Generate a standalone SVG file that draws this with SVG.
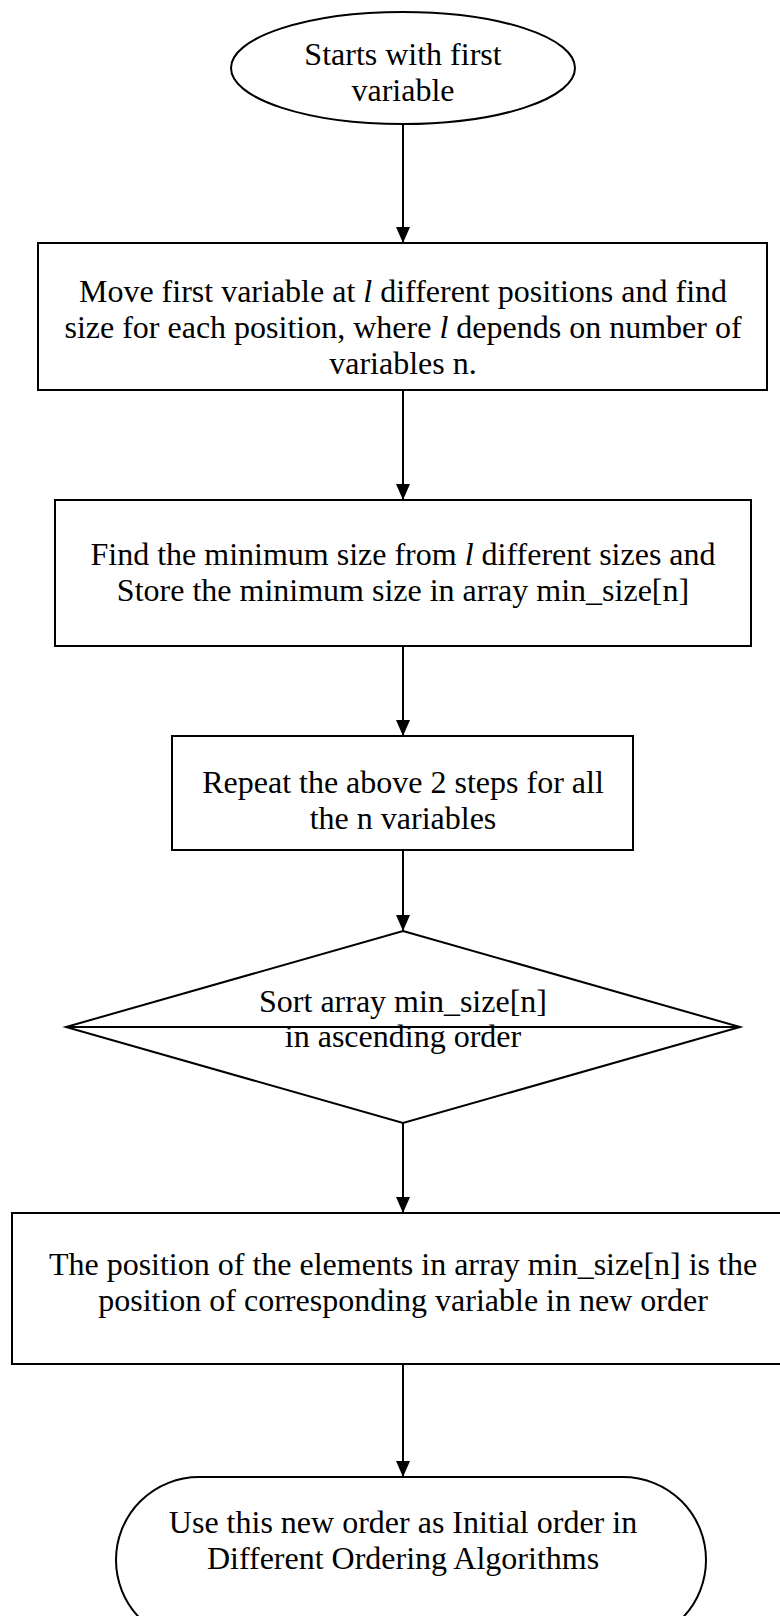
<svg xmlns="http://www.w3.org/2000/svg" width="780" height="1616" viewBox="0 0 780 1616">
  <style>
    .shape { fill: #ffffff; stroke: #000000; stroke-width: 2; }
    .label { font-family: "Liberation Serif", "Times New Roman", serif; font-size: 32px; fill: #000000; text-anchor: middle; }
    .it { font-style: italic; }
    .edge { fill: none; stroke: #000000; stroke-width: 2; marker-end: url(#arrow); }
  </style>
  <defs>
    <marker id="arrow" viewBox="0 0 14 16" refX="7" refY="16" markerWidth="14" markerHeight="16" markerUnits="userSpaceOnUse" orient="0">
      <path d="M0,0 L14,0 L7,16 Z" fill="#000000"/>
    </marker>
  </defs>

  <rect x="0" y="0" width="780" height="1616" fill="#ffffff"/>

  <!-- connectors -->
  <g id="connectors">
    <line class="edge" x1="403" y1="124" x2="403" y2="243"/>
    <line class="edge" x1="403" y1="390" x2="403" y2="500"/>
    <line class="edge" x1="403" y1="646" x2="403" y2="736"/>
    <line class="edge" x1="403" y1="850" x2="403" y2="931"/>
    <line class="edge" x1="403" y1="1123" x2="403" y2="1213"/>
    <line class="edge" x1="403" y1="1364" x2="403" y2="1477"/>
  </g>

  <!-- start terminal -->
  <g id="start">
    <ellipse class="shape" cx="403" cy="68" rx="172" ry="56"/>
    <text class="label" x="403" y="65">Starts with first</text>
    <text class="label" x="403" y="101">variable</text>
  </g>

  <!-- step: move first variable -->
  <g id="move-variable">
    <rect class="shape" x="38" y="243" width="729" height="147"/>
    <text class="label" x="403" y="302">Move first variable at <tspan class="it">l</tspan> different positions and find</text>
    <text class="label" x="403" y="338">size for each position, where <tspan class="it">l</tspan> depends on number of</text>
    <text class="label" x="403" y="374">variables n.</text>
  </g>

  <!-- step: find minimum size -->
  <g id="find-minimum">
    <rect class="shape" x="55" y="500" width="696" height="146"/>
    <text class="label" x="403" y="565">Find the minimum size from <tspan class="it">l</tspan> different sizes and</text>
    <text class="label" x="403" y="601">Store the minimum size in array min_size[n]</text>
  </g>

  <!-- step: repeat for all variables -->
  <g id="repeat-steps">
    <rect class="shape" x="172" y="736" width="461" height="114"/>
    <text class="label" x="403" y="793">Repeat the above 2 steps for all</text>
    <text class="label" x="403" y="829">the n variables</text>
  </g>

  <!-- decision: sort array -->
  <g id="sort-array">
    <polygon class="shape" points="403,931 740,1027 403,1123 66,1027"/>
    <line x1="66" y1="1027" x2="740" y2="1027" stroke="#000000" stroke-width="2"/>
    <text class="label" x="403" y="1012">Sort array min_size[n]</text>
    <text class="label" x="403" y="1047">in ascending order</text>
  </g>

  <!-- step: positions give new order -->
  <g id="new-order">
    <rect class="shape" x="12" y="1213" width="772" height="151"/>
    <text class="label" x="403" y="1275">The position of the elements in array min_size[n] is the</text>
    <text class="label" x="403" y="1311">position of corresponding variable in new order</text>
  </g>

  <!-- end terminal -->
  <g id="end">
    <rect class="shape" x="116" y="1477" width="590" height="166" rx="83" ry="83"/>
    <text class="label" x="403" y="1533">Use this new order as Initial order in</text>
    <text class="label" x="403" y="1569">Different Ordering Algorithms</text>
  </g>
</svg>
